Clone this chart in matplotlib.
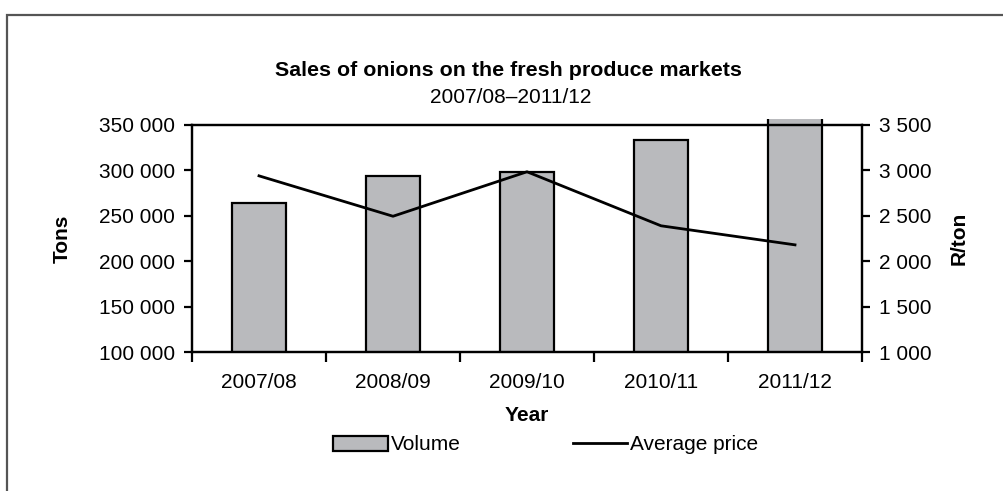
import matplotlib
matplotlib.use("Agg")
import matplotlib.pyplot as plt
from matplotlib.patches import Rectangle
from matplotlib.ticker import FuncFormatter, FixedLocator

plt.rcParams['font.family'] = ['Liberation Sans', 'DejaVu Sans']

years = ['2007/08', '2008/09', '2009/10', '2010/11', '2011/12']
volume = [264500, 293500, 298000, 333500, 380000]
price = [2940, 2495, 2985, 2390, 2180]

fs = 15


def spaced(v, pos):
    return f"{v:,.0f}".replace(",", " ")


fig = plt.figure(figsize=(10.04, 4.91), dpi=100)
# outer frame (runs off the right and bottom edges)
fig.patches.append(Rectangle((7.5 / 1004, -0.1), 1.2, 1 - 15 / 491 + 0.1,
                             transform=fig.transFigure, fill=False,
                             edgecolor='#555555', linewidth=1.6, zorder=0))

ax = fig.add_axes([192 / 1004, 139 / 491, 670 / 1004, 227 / 491])
x = list(range(len(years)))
bars = ax.bar(x, volume, width=0.4, color='#b9babd', edgecolor='black',
              linewidth=1.6, label='Volume', zorder=2)
clip = Rectangle((0, 0), 1, 1.025, transform=ax.transAxes)
for b in bars:
    b.set_clip_path(clip)

ax.set_xlim(-0.5, len(years) - 0.5)
ax.set_ylim(100000, 350000)
ax.set_yticks(range(100000, 350001, 50000))
ax.yaxis.set_major_formatter(FuncFormatter(spaced))
ax.set_xticks(x)
ax.set_xticklabels(years)
ax.xaxis.set_minor_locator(FixedLocator([i - 0.5 for i in range(len(years) + 1)]))
ax.tick_params(axis='x', which='major', length=0, labelsize=fs, pad=15)
ax.tick_params(axis='x', which='minor', length=7, width=1.6, direction='out')
ax.tick_params(axis='y', length=6, width=1.6, direction='out', labelsize=fs, pad=6)
for s in ax.spines.values():
    s.set_linewidth(1.6)
ax.set_ylabel('Tons', fontsize=fs, fontweight='bold', labelpad=20)
ax.set_xlabel('Year', fontsize=fs, fontweight='bold', labelpad=10)

ax2 = ax.twinx()
line, = ax2.plot(x, price, color='black', linewidth=2, label='Average price', zorder=3)
ax2.set_ylim(1000, 3500)
ax2.set_yticks(range(1000, 3501, 500))
ax2.yaxis.set_major_formatter(FuncFormatter(spaced))
ax2.tick_params(axis='y', length=6, width=1.6, direction='out', labelsize=fs, pad=6)
for s in ax2.spines.values():
    s.set_linewidth(1.6)
ax2.set_ylabel('R/ton', fontsize=fs, fontweight='bold', labelpad=13)

fig.text(508 / 1004, 1 - 76 / 491, 'Sales of onions on the fresh produce markets',
         ha='center', va='baseline', fontsize=15.4, fontweight='bold')
fig.text(511 / 1004, 1 - 103 / 491, '2007/08\u20132011/12',
         ha='center', va='baseline', fontsize=fs)

fig.legend([bars, line], ['Volume', 'Average price'], loc='center',
           bbox_to_anchor=(546 / 1004, 46 / 491), ncol=2, frameon=False,
           fontsize=fs, handlelength=2.6, handletextpad=0.15,
           columnspacing=5.4)

fig.savefig('out.png', dpi=100)
